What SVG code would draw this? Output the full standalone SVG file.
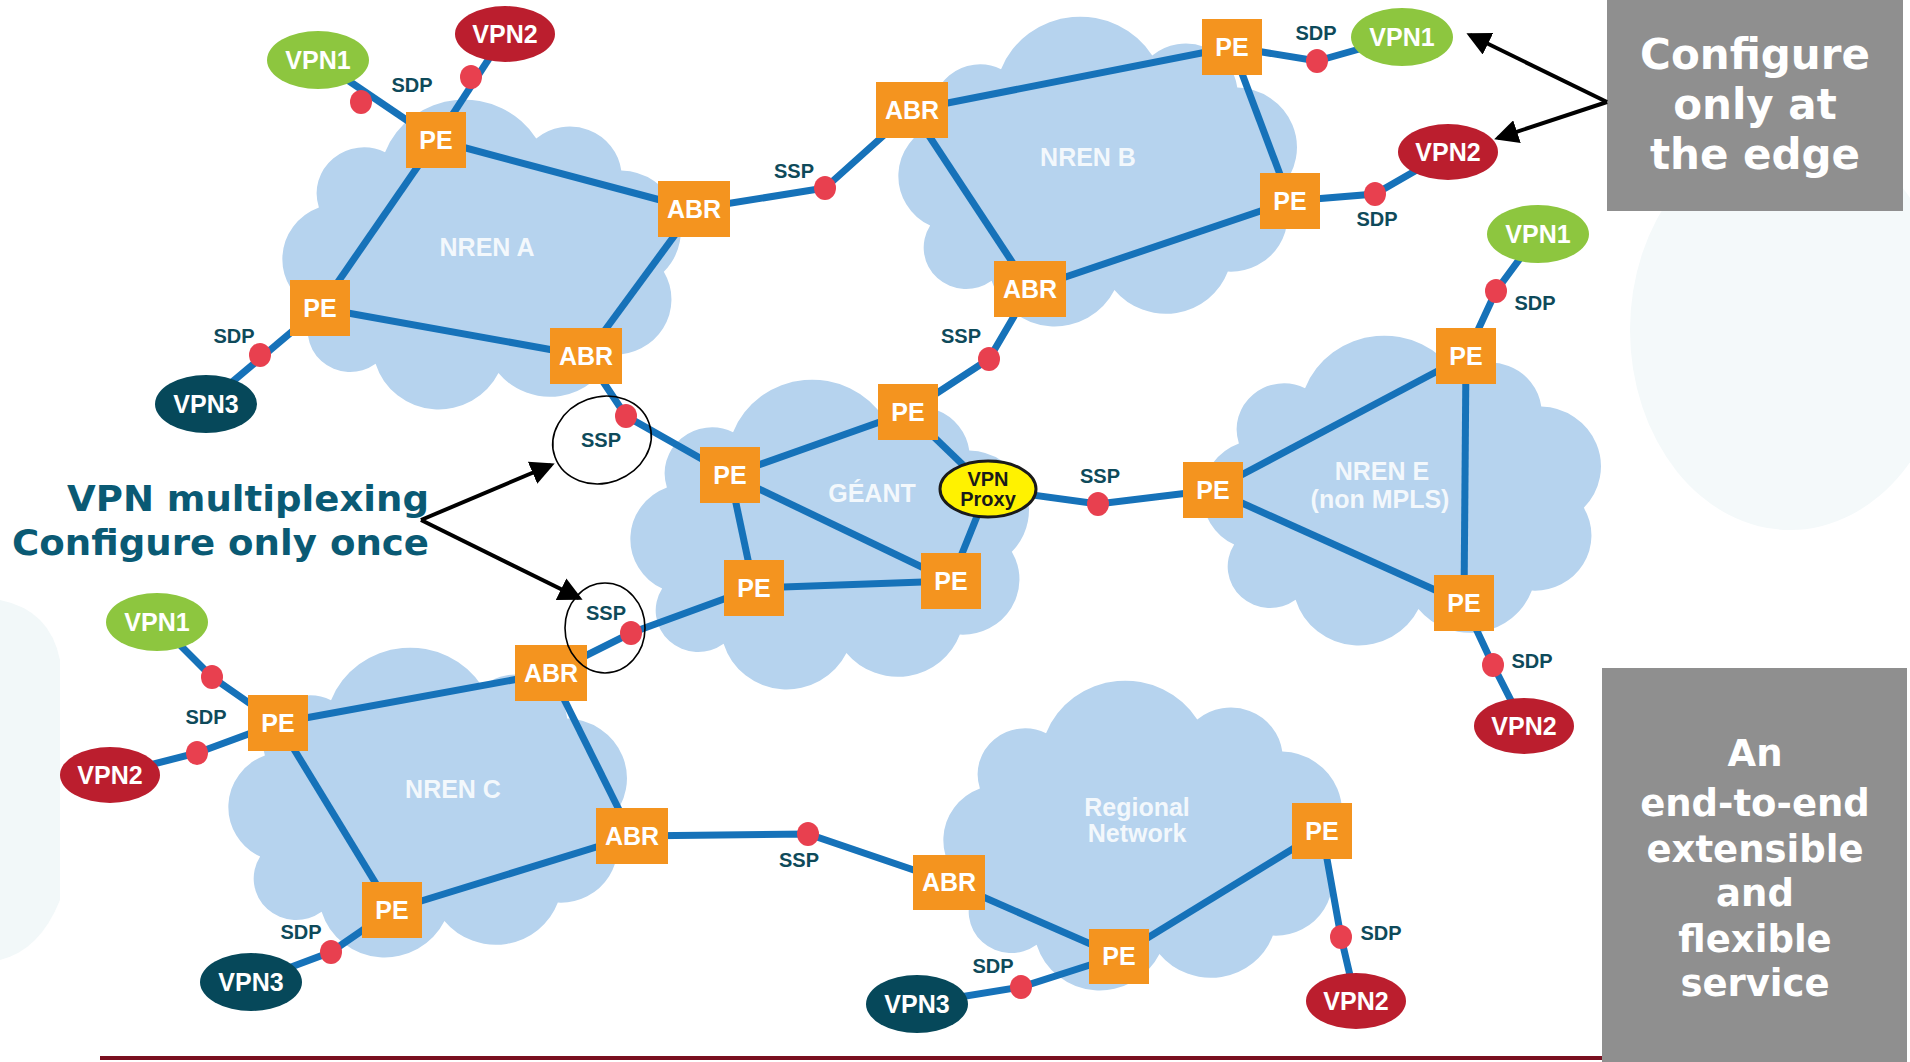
<svg xmlns="http://www.w3.org/2000/svg" width="1910" height="1062" viewBox="0 0 1910 1062">
<style>
.cloud{fill:#b6d3ee}
.cl{font-family:"Liberation Sans",Arial,sans-serif;font-weight:bold;font-size:25px;fill:#ffffff;fill-opacity:0.85;text-anchor:middle}
.lk{stroke:#1672b9;stroke-width:7;fill:none}
.dot{fill:#e8404f}
.box{fill:#f4941f}
.bt{font-family:"Liberation Sans",Arial,sans-serif;font-weight:bold;font-size:25px;fill:#ffffff;text-anchor:middle}
.v1{fill:#8dc63f}
.v2{fill:#bb1e2e}
.v3{fill:#06485a}
.lab{font-family:"Liberation Sans",Arial,sans-serif;font-weight:bold;font-size:20px;fill:#0e4a5a;text-anchor:middle}
.gray{fill:#8f8f8f}
.gt{font-family:"DejaVu Sans",Verdana,sans-serif;font-weight:bold;fill:#ffffff;text-anchor:middle}
.mux{font-family:"DejaVu Sans",Verdana,sans-serif;font-weight:bold;font-size:35px;fill:#0a5a74}
.arr{stroke:#000;stroke-width:4;fill:none;marker-end:url(#ah)}
.ring{stroke:#000;stroke-width:1.6;fill:none}
</style>
<defs>
<path id="cloudp" d="M15,230 A60,60 0 0 1 20,120 A50,50 0 0 1 90,60 A90,90 0 0 1 250,45 A55,55 0 0 1 340,80 A65,65 0 0 1 385,190 A60,60 0 0 1 330,280 A70,70 0 0 1 210,300 A70,70 0 0 1 80,290 A45,45 0 0 1 15,230 Z"/>
<marker id="ah" markerWidth="6" markerHeight="6" refX="5" refY="3" orient="auto" markerUnits="strokeWidth">
<path d="M0,0 L6,3 L0,6 Z" fill="#000"/>
</marker>
</defs>
<rect width="1910" height="1062" fill="#ffffff"/>
<g id="background">
<ellipse cx="1790" cy="330" rx="160" ry="200" fill="#f4f9fa"/>
<path d="M0,600 Q50,610 60,660 L60,900 Q40,950 0,960 Z" fill="#f2f8f9"/>
</g>
<g id="clouds">
<use href="#cloudp" class="cloud" transform="translate(300,97) scale(0.945 0.92)"/>
<use href="#cloudp" class="cloud" transform="translate(916,14) scale(0.945 0.92)"/>
<use href="#cloudp" class="cloud" transform="translate(648,377) scale(0.945 0.92)"/>
<use href="#cloudp" class="cloud" transform="translate(1220,333) scale(0.945 0.92)"/>
<use href="#cloudp" class="cloud" transform="translate(246,645) scale(0.945 0.92)"/>
<use href="#cloudp" class="cloud" transform="translate(961,678) scale(0.945 0.92)"/>
<text class="cl" x="487" y="256">NREN A</text>
<text class="cl" x="1088" y="166">NREN B</text>
<text class="cl" x="872" y="502">GÉANT</text>
<text class="cl" x="1382" y="480">NREN E</text>
<text class="cl" x="1380" y="508">(non MPLS)</text>
<text class="cl" x="453" y="798">NREN C</text>
<text class="cl" x="1137" y="816">Regional</text>
<text class="cl" x="1137" y="842">Network</text>
</g>
<g id="connectors">
<line class="lk" x1="436" y1="140" x2="694" y2="209"/>
<line class="lk" x1="436" y1="140" x2="320" y2="308"/>
<line class="lk" x1="320" y1="308" x2="586" y2="356"/>
<line class="lk" x1="694" y1="209" x2="586" y2="356"/>
<line class="lk" x1="318" y1="60" x2="436" y2="140"/>
<line class="lk" x1="505" y1="34" x2="436" y2="140"/>
<line class="lk" x1="206" y1="404" x2="320" y2="308"/>
<polyline class="lk" points="694,209 825,188 912,110"/>
<polyline class="lk" points="586,356 626,416 730,475"/>
<line class="lk" x1="912" y1="110" x2="1232" y2="47"/>
<line class="lk" x1="912" y1="110" x2="1030" y2="289"/>
<line class="lk" x1="1232" y1="47" x2="1290" y2="201"/>
<line class="lk" x1="1290" y1="201" x2="1030" y2="289"/>
<polyline class="lk" points="1232,47 1317,61 1402,37"/>
<polyline class="lk" points="1290,201 1375,194 1448,152"/>
<polyline class="lk" points="1030,289 989,359 908,412"/>
<line class="lk" x1="908" y1="412" x2="730" y2="475"/>
<line class="lk" x1="908" y1="412" x2="988" y2="489"/>
<line class="lk" x1="988" y1="489" x2="951" y2="581"/>
<line class="lk" x1="730" y1="475" x2="754" y2="588"/>
<line class="lk" x1="730" y1="475" x2="951" y2="581"/>
<line class="lk" x1="754" y1="588" x2="951" y2="581"/>
<polyline class="lk" points="754,588 631,633 551,673"/>
<polyline class="lk" points="988,489 1098,504 1213,490"/>
<line class="lk" x1="1213" y1="490" x2="1466" y2="356"/>
<line class="lk" x1="1213" y1="490" x2="1464" y2="603"/>
<line class="lk" x1="1466" y1="356" x2="1464" y2="603"/>
<polyline class="lk" points="1466,356 1496,291 1538,234"/>
<polyline class="lk" points="1464,603 1493,665 1524,726"/>
<line class="lk" x1="278" y1="723" x2="551" y2="673"/>
<line class="lk" x1="278" y1="723" x2="392" y2="910"/>
<line class="lk" x1="551" y1="673" x2="632" y2="836"/>
<line class="lk" x1="392" y1="910" x2="632" y2="836"/>
<polyline class="lk" points="157,622 212,677 278,723"/>
<polyline class="lk" points="110,775 197,753 278,723"/>
<polyline class="lk" points="251,982 331,952 392,910"/>
<polyline class="lk" points="632,836 808,834 949,882"/>
<line class="lk" x1="949" y1="882" x2="1118" y2="956"/>
<line class="lk" x1="1118" y1="956" x2="1322" y2="831"/>
<polyline class="lk" points="1118,956 1021,987 917,1004"/>
<polyline class="lk" points="1322,831 1341,937 1356,1001"/>
</g>
<g id="points">
<ellipse class="dot" cx="361" cy="102" rx="11" ry="12"/>
<ellipse class="dot" cx="471" cy="77" rx="11" ry="12"/>
<ellipse class="dot" cx="260" cy="355" rx="11" ry="12"/>
<ellipse class="dot" cx="825" cy="188" rx="11" ry="12"/>
<ellipse class="dot" cx="626" cy="416" rx="11" ry="12"/>
<ellipse class="dot" cx="1317" cy="61" rx="11" ry="12"/>
<ellipse class="dot" cx="1375" cy="194" rx="11" ry="12"/>
<ellipse class="dot" cx="989" cy="359" rx="11" ry="12"/>
<ellipse class="dot" cx="1098" cy="504" rx="11" ry="12"/>
<ellipse class="dot" cx="1496" cy="291" rx="11" ry="12"/>
<ellipse class="dot" cx="1493" cy="665" rx="11" ry="12"/>
<ellipse class="dot" cx="631" cy="633" rx="11" ry="12"/>
<ellipse class="dot" cx="212" cy="677" rx="11" ry="12"/>
<ellipse class="dot" cx="197" cy="753" rx="11" ry="12"/>
<ellipse class="dot" cx="331" cy="952" rx="11" ry="12"/>
<ellipse class="dot" cx="808" cy="834" rx="11" ry="12"/>
<ellipse class="dot" cx="1021" cy="987" rx="11" ry="12"/>
<ellipse class="dot" cx="1341" cy="937" rx="11" ry="12"/>
</g>
<g id="node-A-PE1"><rect class="box" x="406" y="112" width="60" height="56"/><text class="bt" x="436" y="149">PE</text></g>
<g id="node-A-ABR1"><rect class="box" x="658" y="181" width="72" height="56"/><text class="bt" x="694" y="218">ABR</text></g>
<g id="node-A-PE2"><rect class="box" x="290" y="280" width="60" height="56"/><text class="bt" x="320" y="317">PE</text></g>
<g id="node-A-ABR2"><rect class="box" x="550" y="328" width="72" height="56"/><text class="bt" x="586" y="365">ABR</text></g>
<g id="node-B-ABR1"><rect class="box" x="876" y="82" width="72" height="56"/><text class="bt" x="912" y="119">ABR</text></g>
<g id="node-B-PE1"><rect class="box" x="1202" y="19" width="60" height="56"/><text class="bt" x="1232" y="56">PE</text></g>
<g id="node-B-PE2"><rect class="box" x="1260" y="173" width="60" height="56"/><text class="bt" x="1290" y="210">PE</text></g>
<g id="node-B-ABR2"><rect class="box" x="994" y="261" width="72" height="56"/><text class="bt" x="1030" y="298">ABR</text></g>
<g id="node-G-PE1"><rect class="box" x="878" y="384" width="60" height="56"/><text class="bt" x="908" y="421">PE</text></g>
<g id="node-G-PE2"><rect class="box" x="700" y="447" width="60" height="56"/><text class="bt" x="730" y="484">PE</text></g>
<g id="node-G-PE3"><rect class="box" x="724" y="560" width="60" height="56"/><text class="bt" x="754" y="597">PE</text></g>
<g id="node-G-PE4"><rect class="box" x="921" y="553" width="60" height="56"/><text class="bt" x="951" y="590">PE</text></g>
<g id="node-proxy"><ellipse cx="988" cy="489" rx="48" ry="28" fill="#fff200" stroke="#1a1a1a" stroke-width="3"/><text class="bt" style="font-size:20px;fill:#1a1a1a" x="988" y="486">VPN</text><text class="bt" style="font-size:20px;fill:#1a1a1a" x="988" y="506">Proxy</text></g>
<g id="node-E-PE1"><rect class="box" x="1183" y="462" width="60" height="56"/><text class="bt" x="1213" y="499">PE</text></g>
<g id="node-E-PE2"><rect class="box" x="1436" y="328" width="60" height="56"/><text class="bt" x="1466" y="365">PE</text></g>
<g id="node-E-PE3"><rect class="box" x="1434" y="575" width="60" height="56"/><text class="bt" x="1464" y="612">PE</text></g>
<g id="node-C-PE1"><rect class="box" x="248" y="695" width="60" height="56"/><text class="bt" x="278" y="732">PE</text></g>
<g id="node-C-ABR1"><rect class="box" x="515" y="645" width="72" height="56"/><text class="bt" x="551" y="682">ABR</text></g>
<g id="node-C-ABR2"><rect class="box" x="596" y="808" width="72" height="56"/><text class="bt" x="632" y="845">ABR</text></g>
<g id="node-C-PE2"><rect class="box" x="362" y="882" width="60" height="56"/><text class="bt" x="392" y="919">PE</text></g>
<g id="node-R-ABR"><rect class="box" x="913" y="855" width="72" height="55"/><text class="bt" x="949" y="891">ABR</text></g>
<g id="node-R-PE1"><rect class="box" x="1089" y="929" width="60" height="55"/><text class="bt" x="1119" y="965">PE</text></g>
<g id="node-R-PE2"><rect class="box" x="1292" y="803" width="60" height="56"/><text class="bt" x="1322" y="840">PE</text></g>
<g id="node-A-VPN1"><ellipse class="v1" cx="318" cy="60" rx="51" ry="29"/><text class="bt" x="318" y="69">VPN1</text></g>
<g id="node-A-VPN2"><ellipse class="v2" cx="505" cy="34" rx="50" ry="28"/><text class="bt" x="505" y="43">VPN2</text></g>
<g id="node-A-VPN3"><ellipse class="v3" cx="206" cy="404" rx="51" ry="29"/><text class="bt" x="206" y="413">VPN3</text></g>
<g id="node-B-VPN1"><ellipse class="v1" cx="1402" cy="37" rx="51" ry="29"/><text class="bt" x="1402" y="46">VPN1</text></g>
<g id="node-B-VPN2"><ellipse class="v2" cx="1448" cy="152" rx="50" ry="28"/><text class="bt" x="1448" y="161">VPN2</text></g>
<g id="node-E-VPN1"><ellipse class="v1" cx="1538" cy="234" rx="51" ry="29"/><text class="bt" x="1538" y="243">VPN1</text></g>
<g id="node-E-VPN2"><ellipse class="v2" cx="1524" cy="726" rx="50" ry="28"/><text class="bt" x="1524" y="735">VPN2</text></g>
<g id="node-C-VPN1"><ellipse class="v1" cx="157" cy="622" rx="51" ry="29"/><text class="bt" x="157" y="631">VPN1</text></g>
<g id="node-C-VPN2"><ellipse class="v2" cx="110" cy="775" rx="50" ry="28"/><text class="bt" x="110" y="784">VPN2</text></g>
<g id="node-C-VPN3"><ellipse class="v3" cx="251" cy="982" rx="51" ry="29"/><text class="bt" x="251" y="991">VPN3</text></g>
<g id="node-R-VPN3"><ellipse class="v3" cx="917" cy="1004" rx="51" ry="29"/><text class="bt" x="917" y="1013">VPN3</text></g>
<g id="node-R-VPN2"><ellipse class="v2" cx="1356" cy="1001" rx="50" ry="28"/><text class="bt" x="1356" y="1010">VPN2</text></g>
<g id="point-labels">
<text class="lab" x="412" y="92">SDP</text>
<text class="lab" x="234" y="343">SDP</text>
<text class="lab" x="794" y="178">SSP</text>
<text class="lab" x="601" y="447">SSP</text>
<text class="lab" x="1316" y="40">SDP</text>
<text class="lab" x="1377" y="226">SDP</text>
<text class="lab" x="961" y="343">SSP</text>
<text class="lab" x="1100" y="483">SSP</text>
<text class="lab" x="1535" y="310">SDP</text>
<text class="lab" x="1532" y="668">SDP</text>
<text class="lab" x="206" y="724">SDP</text>
<text class="lab" x="606" y="620">SSP</text>
<text class="lab" x="301" y="939">SDP</text>
<text class="lab" x="799" y="867">SSP</text>
<text class="lab" x="993" y="973">SDP</text>
<text class="lab" x="1381" y="940">SDP</text>
</g>
<g id="rings">
<ellipse class="ring" cx="602" cy="440" rx="50" ry="43" transform="rotate(-20 602 440)"/>
<ellipse class="ring" cx="605" cy="628" rx="40" ry="45"/>
</g>
<g id="annotation-multiplexing">
<text class="mux" x="67" y="511" textLength="362" lengthAdjust="spacingAndGlyphs">VPN multiplexing</text>
<text class="mux" x="12" y="555" textLength="417" lengthAdjust="spacingAndGlyphs">Configure only once</text>
<line class="arr" x1="421" y1="520" x2="551" y2="465"/>
<line class="arr" x1="421" y1="520" x2="579" y2="598"/>
</g>
<g id="annotation-edge">
<rect class="gray" x="1607" y="0" width="296" height="211"/>
<text class="gt" style="font-size:42px" x="1755" y="69">Configure</text>
<text class="gt" style="font-size:42px" x="1755" y="119">only at</text>
<text class="gt" style="font-size:42px" x="1755" y="169">the edge</text>
<line class="arr" x1="1607" y1="102" x2="1470" y2="35"/>
<line class="arr" x1="1607" y1="102" x2="1498" y2="138"/>
</g>
<g id="annotation-service">
<rect class="gray" x="1602" y="668" width="305" height="394"/>
<text class="gt" style="font-size:37px" x="1755" y="766">An</text>
<text class="gt" style="font-size:37px" x="1755" y="816">end-to-end</text>
<text class="gt" style="font-size:37px" x="1755" y="862">extensible</text>
<text class="gt" style="font-size:37px" x="1755" y="906">and</text>
<text class="gt" style="font-size:37px" x="1755" y="952">flexible</text>
<text class="gt" style="font-size:37px" x="1755" y="996">service</text>
</g>
<line x1="100" y1="1058" x2="1602" y2="1058" stroke="#7a1020" stroke-width="4"/>
</svg>
